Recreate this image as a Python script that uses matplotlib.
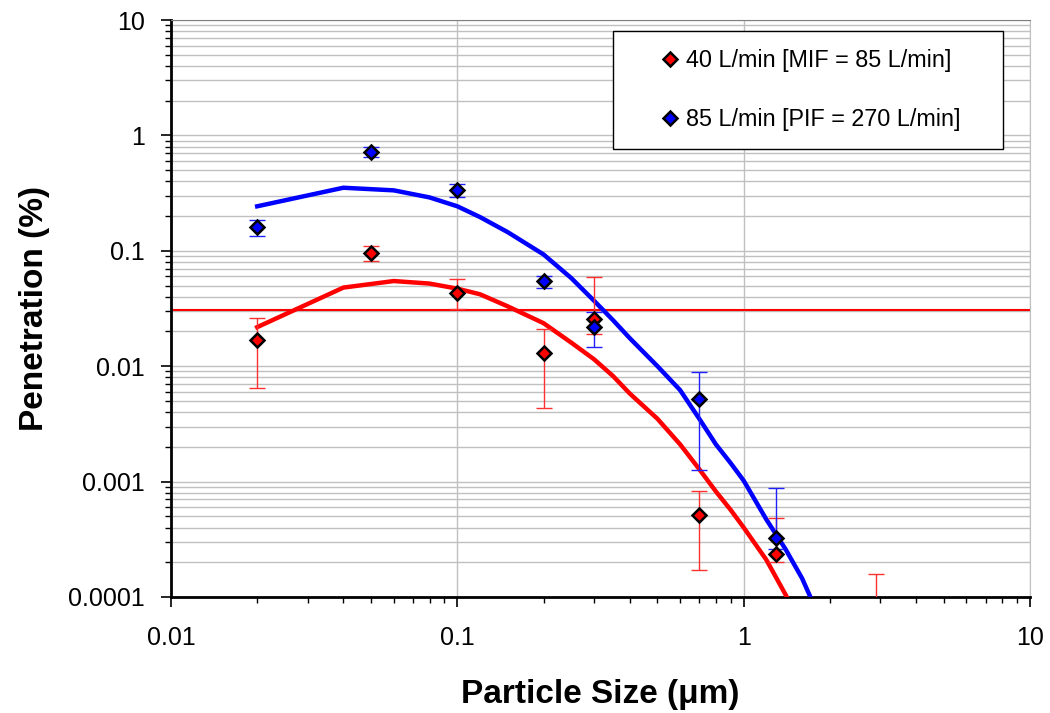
import matplotlib
matplotlib.use("Agg")
import matplotlib.pyplot as plt
import numpy as np
from matplotlib.patches import Rectangle
from matplotlib.ticker import LogLocator, FixedLocator, FuncFormatter, NullFormatter

plt.rcParams['font.family'] = ['Liberation Sans', 'DejaVu Sans']

# measured points, 40 L/min
x_red = [0.02, 0.05, 0.1, 0.2, 0.3, 0.7, 1.3, 2.9]
y_red = [0.0167, 0.095, 0.0433, 0.0129, 0.0255, 0.00051, 0.000237, 0.00005]
lo_red = [0.0065, 0.081, 0.0313, 0.0043, 0.019, 0.000173, 0.0002, 0.00002]
hi_red = [0.026, 0.11, 0.0573, 0.021, 0.0596, 0.00083, 0.000487, 0.000157]

# measured points, 85 L/min
x_blue = [0.02, 0.05, 0.1, 0.2, 0.3, 0.7, 1.3]
y_blue = [0.16, 0.717, 0.334, 0.0543, 0.022, 0.00515, 0.000324]
lo_blue = [0.134, 0.645, 0.29, 0.0472, 0.0147, 0.00127, 0.00026]
hi_blue = [0.185, 0.79, 0.38, 0.06, 0.0292, 0.00883, 0.00088]

# model curves
x_fit = [0.02, 0.04, 0.06, 0.08, 0.1, 0.12, 0.15, 0.2, 0.25, 0.3, 0.35, 0.4,
         0.5, 0.6, 0.7, 0.8, 0.9, 1.0, 1.2, 1.4, 1.6, 1.8]
fit_blue = [0.243, 0.352, 0.334, 0.29, 0.243, 0.196, 0.145, 0.093, 0.058, 0.037,
            0.025, 0.0175, 0.0100, 0.0062, 0.0035, 0.0021, 0.00145, 0.00102,
            0.00047, 0.00026, 0.000145, 0.000075]
fit_red = [0.0218, 0.048, 0.0547, 0.052, 0.047, 0.042, 0.033, 0.0236, 0.016, 0.0115,
           0.0082, 0.0058, 0.0035, 0.0021, 0.00128, 0.00082, 0.00057, 0.0004,
           0.00021, 0.000105, 0.000055, 0.00003]

limit = 0.0305

fig = plt.figure(figsize=(10.5, 7.13), dpi=100)
ax = fig.add_axes([171 / 1050, 1 - 597 / 713, 859 / 1050, 577 / 713])

ax.set_xscale('log')
ax.set_yscale('log')
ax.set_xlim(0.01, 10)
ax.set_ylim(0.0001, 10)

ax.axhline(limit, color='red', lw=1.5, zorder=2)
ax.plot(x_fit, fit_red, color='red', lw=3.2, zorder=3)
ax.plot(x_fit, fit_blue, color='blue', lw=3.2, zorder=3)

yr = np.array(y_red)
ax.errorbar(x_red, y_red, yerr=[yr - np.array(lo_red), np.array(hi_red) - yr],
            fmt='none', ecolor='#ff3030', elinewidth=1, capsize=5.5, capthick=1, zorder=4)
yb = np.array(y_blue)
ax.errorbar(x_blue, y_blue, yerr=[yb - np.array(lo_blue), np.array(hi_blue) - yb],
            fmt='none', ecolor='#2020ff', elinewidth=1, capsize=5.5, capthick=1, zorder=4)

ax.plot(x_red, y_red, 'D', ms=7.5, mfc='red', mec='black', mew=1.8,
        label='40 L/min [MIF = 85 L/min]', zorder=5)
ax.plot(x_blue, y_blue, 'D', ms=7.5, mfc='blue', mec='black', mew=1.8,
        label='85 L/min [PIF = 270 L/min]', zorder=5)

# ticks and grid
ax.yaxis.set_major_locator(LogLocator(base=10, numticks=10))
ax.yaxis.set_minor_locator(LogLocator(base=10, subs=np.arange(2, 10), numticks=10))
ax.xaxis.set_major_locator(FixedLocator([0.01, 0.1, 1, 10]))
ax.xaxis.set_minor_locator(LogLocator(base=10, subs=np.arange(2, 10), numticks=10))
fmt = FuncFormatter(lambda v, p: '%g' % v)
ax.xaxis.set_major_formatter(fmt)
ax.yaxis.set_major_formatter(fmt)
ax.xaxis.set_minor_formatter(NullFormatter())
ax.yaxis.set_minor_formatter(NullFormatter())

ax.grid(True, which='both', axis='y', color='#c0c0c0', lw=1)
ax.grid(True, which='major', axis='x', color='#c0c0c0', lw=1)
ax.set_axisbelow(True)

ax.tick_params(which='major', length=7, width=1.2, labelsize=18, pad=12)
ax.tick_params(which='minor', length=4.5, width=1)
ax.tick_params(axis='x', which='major', pad=14)

for s in ['left', 'bottom']:
    ax.spines[s].set_linewidth(2)
ax.spines['top'].set_color('#808080')
ax.spines['right'].set_color('#c0c0c0')

ax.set_xlabel('Particle Size (\u03bcm)', fontsize=24, fontweight='bold', labelpad=21)
ax.set_ylabel('Penetration (%)', fontsize=24, fontweight='bold', labelpad=13)

# legend box drawn separately so the padding matches
ax.add_patch(Rectangle((0.5146, 0.7764), 0.454, 0.2045, transform=ax.transAxes,
                       facecolor='white', edgecolor='black', lw=1, zorder=6))
leg = ax.legend(loc='upper left', bbox_to_anchor=(0.5675, 0.9493), borderaxespad=0,
                borderpad=0, fontsize=16.8, numpoints=1, frameon=False,
                handletextpad=0.2, labelspacing=1.55, handlelength=1.0)
leg.set_zorder(7)

fig.savefig('out.png', dpi=100)
